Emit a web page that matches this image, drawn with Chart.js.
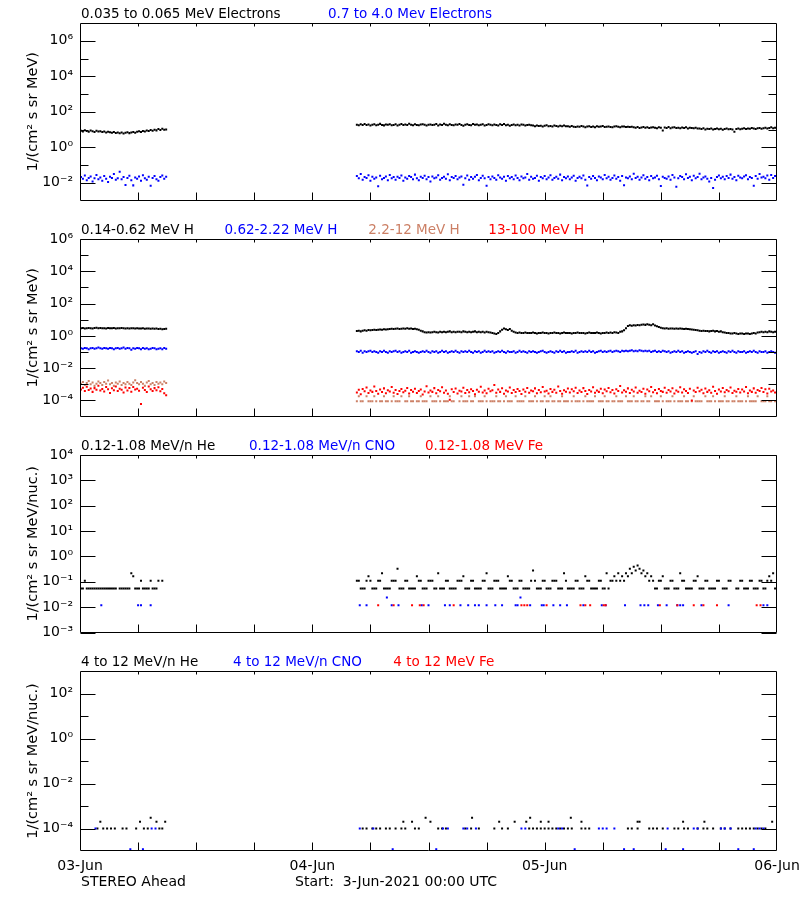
<!DOCTYPE html>
<html><head><meta charset="utf-8">
<script src="https://cdn.jsdelivr.net/npm/chart.js@4.4.1/dist/chart.umd.min.js"></script>
<style>
html,body{margin:0;padding:0;background:#fff;}
body{width:800px;height:900px;overflow:hidden;position:relative;font-family:"DejaVu Sans",sans-serif;}
canvas{position:absolute;left:0;}
.lbl{position:absolute;white-space:pre;font-size:13.5px;line-height:1;}
.foot{position:absolute;white-space:pre;font-size:14px;line-height:1;color:#000;}
</style></head><body>
<canvas id="p1" width="840" height="216" style="top:0px"></canvas>
<canvas id="p2" width="840" height="216" style="top:216px"></canvas>
<canvas id="p3" width="840" height="216" style="top:432px"></canvas>
<canvas id="p4" width="840" height="252" style="top:648px"></canvas>
<div id="texts"></div>
<script>
// ---------- time grid (hours from 03-Jun 00:00 UTC) ----------
const STEP = 0.2;
const SEG_A = 0.1;
const SEG_B = 28.6;
const DAY_HOURS = [0, 24, 48, 72];
const DAY_LABELS = ['03-Jun', '04-Jun', '05-Jun', '06-Jun'];
const HOUR_TICKS = [6, 12, 18, 24, 30, 36, 42, 48, 54, 60, 66];

// ---------- panel 1: electrons ----------
const elecLoA = [8.6,7.9,9.1,8.2,7.6,8.8,8.0,7.4,8.5,7.7,8.1,7.2,7.8,6.9,7.5,7.0,6.6,7.3,6.4,6.9,6.2,6.8,6.0,6.6,7.1,6.3,6.9,7.4,6.7,7.6,8.0,7.3,8.4,7.8,8.9,8.2,9.4,8.6,9.9,9.0,10.6,9.3,11.2,9.7,10.1];
const elecLoB = [
18.9,17.6,19.8,18.2,20.4,17.9,19.1,16.8,18.5,19.7,17.4,18.8,20.9,18.1,17.2,19.4,18.6,20.1,17.7,18.3,
19.6,16.9,18.4,20.6,17.8,19.2,18.0,21.3,18.7,17.3,19.9,18.2,17.5,19.3,20.2,18.6,16.7,18.9,19.5,17.9,
18.4,20.7,17.1,19.0,18.3,21.0,18.8,17.6,19.7,18.1,17.4,19.2,18.6,20.3,17.8,16.6,18.9,19.8,18.2,17.5,
20.5,18.7,19.1,17.3,18.4,19.6,16.9,18.0,20.0,18.5,17.7,19.4,18.1,17.0,19.8,18.3,20.6,17.6,18.8,16.4,
18.2,19.3,17.5,18.7,17.1,19.0,18.4,16.8,17.9,18.6,17.3,
16.8,15.4,17.1,15.9,16.5,14.8,16.2,17.4,15.6,16.0,15.1,16.7,15.8,14.9,16.3,15.5,17.0,15.2,
15.3,14.2,15.8,14.6,13.9,15.1,14.4,16.0,14.9,13.7,14.8,15.5,14.1,14.7,13.5,15.2,14.3,14.9,15.7,13.8,
14.5,15.0,14.0,13.4,14.8,15.4,14.2,13.6,14.7,15.1,13.9,14.4,14.0,14.6,
13.6,12.7,13.9,12.4,13.2,14.1,12.8,13.5,12.2,13.0,13.7,12.5,11.9,13.3,12.6,8.9,13.1,12.3,13.8,12.0,
12.9,13.4,12.1,12.7,11.8,13.0,12.4,13.6,11.6,12.8,12.2,11.9,12.5,11.4,
11.4,10.6,11.9,10.2,11.1,10.8,11.6,10.1,10.9,11.3,10.4,11.0,9.8,10.7,11.5,10.3,10.9,10.0,
7.6,10.8,11.4,10.5,11.2,11.8,10.7,11.5,11.0,12.1,11.3,10.9,11.7,12.3,11.1,11.9,12.6,11.4,12.2,13.4,
11.8,12.5,12.0];
const elecHiA = [0.021,0.017,0.026,0.014,0.019,0.023,0.012,0.018,0.028,0.016,0.020,0.013,0.024,0.017,0.011,0.022,0.019,0.031,0.015,0.018,
0.042,0.016,0.021,0.0075,0.019,0.025,0.014,0.0072,0.020,0.017,0.023,0.013,0.027,0.018,0.015,0.022,0.0068,0.019,0.024,0.016,
0.013,0.021,0.026,0.017,0.022];
const elecHiB = [
0.024,0.018,0.031,0.015,0.021,0.019,0.027,0.013,0.022,0.017,0.020,0.0065,0.025,0.016,0.019,0.023,0.014,0.028,0.018,0.021,
0.015,0.022,0.019,0.026,0.013,0.020,0.017,0.024,0.021,0.016,0.029,0.018,0.014,0.022,0.019,0.025,0.016,0.021,0.012,0.023,
0.018,0.020,0.027,0.015,0.019,0.022,0.017,0.030,0.014,0.021,0.019,0.024,0.016,0.020,0.023,0.0078,0.018,0.026,0.015,0.021,
0.017,0.022,0.028,0.014,0.019,0.025,0.018,0.0069,0.021,0.016,0.023,0.019,0.015,0.027,0.020,0.017,0.022,0.013,0.024,0.018,
0.021,0.016,0.026,0.019,0.014,0.023,0.018,0.020,0.031,0.015,0.022,0.017,0.019,0.025,0.013,0.021,0.018,0.024,0.016,0.020,
0.027,0.015,0.019,0.022,0.017,0.029,0.014,0.021,0.018,0.023,0.016,0.020,0.025,0.013,0.019,0.022,0.018,0.026,0.015,0.0070,
0.021,0.017,0.024,0.019,0.014,0.023,0.020,0.016,0.028,0.018,0.022,0.015,0.019,0.026,0.017,0.021,0.013,0.024,0.0074,0.020,
0.018,0.023,0.016,0.032,0.019,0.022,0.015,0.020,0.027,0.017,0.021,0.014,0.024,0.018,0.020,0.025,0.016,0.0066,0.022,0.019,
0.017,0.023,0.015,0.028,0.020,0.0061,0.018,0.024,0.021,0.016,0.030,0.019,0.022,0.014,0.025,0.018,0.021,0.033,0.016,0.020,
0.023,0.017,0.012,0.019,0.0052,0.015,0.021,0.026,0.018,0.022,0.016,0.024,0.019,0.029,0.017,0.021,0.014,0.025,0.020,0.018,
0.023,0.027,0.016,0.021,0.019,0.0068,0.024,0.017,0.031,0.020,0.022,0.018,0.026,0.015,0.028,0.019,0.024,0.021];

// ---------- panel 2: protons ----------
const hLoA = [3.0,3.1,2.9,3.0,3.1,3.0,2.9,3.1,3.2,3.0,3.1,3.0,3.0,2.9,3.1,3.0,3.0,3.1,2.9,3.0,
3.0,3.1,3.0,2.9,3.0,2.9,3.0,3.0,2.9,3.0,2.9,2.9,3.0,2.8,2.9,2.9,2.8,2.9,2.8,2.9,2.7,2.8,2.6,2.7,2.8];
const hLoB = [
2.0,2.1,1.9,2.1,2.2,2.1,2.3,2.2,2.3,2.4,2.3,2.4,2.5,2.4,2.6,2.5,2.6,2.7,2.8,2.7,
2.8,2.9,2.7,2.8,2.9,2.8,3.0,2.8,2.9,2.7,2.8,2.6,2.4,2.1,1.9,1.7,1.6,1.7,1.6,1.7,
1.8,1.7,1.6,1.8,1.7,1.8,1.7,1.8,1.9,1.7,1.8,1.7,1.8,1.8,1.7,1.9,1.8,1.7,1.8,1.7,
1.8,1.9,1.7,1.8,1.7,1.8,1.6,1.8,1.7,1.6,1.5,1.4,1.3,1.5,1.9,2.4,2.9,2.6,2.3,2.7,
2.1,1.8,1.6,1.5,1.6,1.5,1.5,1.6,1.5,1.5,1.5,1.6,1.5,1.4,1.5,1.5,1.6,1.5,1.5,1.4,
1.5,1.5,1.6,1.5,1.5,1.4,1.5,1.6,1.5,1.5,1.5,1.4,1.5,1.5,1.6,1.5,1.5,1.5,1.4,1.5,
1.6,1.5,1.5,1.5,1.6,1.5,1.4,1.5,1.5,1.6,1.5,1.6,1.5,1.7,1.6,1.5,1.8,1.9,2.2,3.0,
4.1,4.5,4.3,4.6,4.4,4.7,4.5,4.9,5.1,4.8,5.3,4.9,4.6,5.2,4.4,3.9,3.5,3.2,3.0,2.9,
3.0,2.8,2.9,2.9,2.8,2.9,2.8,2.9,2.8,2.7,2.8,2.7,2.6,2.5,2.4,2.3,2.2,2.1,2.0,2.1,
2.0,2.0,1.9,2.0,2.1,1.9,2.0,1.8,1.9,1.7,1.6,1.5,1.5,1.4,1.4,1.5,1.4,1.3,1.4,1.4,
1.3,1.4,1.4,1.3,1.4,1.5,1.4,1.6,1.7,1.8,1.7,1.8,1.7,1.9,1.8,1.7,1.8,1.8];
const hMidA = [0.17,0.16,0.18,0.17,0.15,0.17,0.18,0.16,0.17,0.19,0.17,0.16,0.18,0.17,0.16,0.18,0.17,0.15,0.17,0.18,
0.16,0.17,0.19,0.16,0.18,0.17,0.14,0.17,0.16,0.18,0.17,0.15,0.18,0.16,0.17,0.15,0.16,0.18,0.17,0.15,0.16,0.17,0.15,0.18,0.16];
const hMidB = [
0.11,0.10,0.12,0.09,0.11,0.10,0.11,0.12,0.10,0.11,0.10,0.09,0.11,0.10,0.12,0.10,0.09,0.11,0.10,0.11,
0.12,0.10,0.11,0.09,0.10,0.11,0.10,0.12,0.09,0.10,0.11,0.10,0.09,0.10,0.11,0.10,0.12,0.10,0.09,0.11,
0.10,0.11,0.09,0.10,0.12,0.10,0.11,0.09,0.10,0.11,0.10,0.12,0.10,0.09,0.11,0.10,0.11,0.10,0.12,0.10,
0.09,0.11,0.10,0.11,0.09,0.10,0.12,0.10,0.11,0.10,0.11,0.09,0.10,0.11,0.10,0.12,0.10,0.09,0.11,0.10,
0.10,0.11,0.09,0.10,0.12,0.10,0.11,0.10,0.09,0.11,0.10,0.11,0.10,0.09,0.10,0.11,0.12,0.10,0.09,0.10,
0.11,0.10,0.09,0.11,0.10,0.12,0.10,0.11,0.09,0.10,0.10,0.11,0.10,0.12,0.09,0.10,0.11,0.10,0.11,0.10,
0.12,0.10,0.11,0.09,0.10,0.11,0.12,0.10,0.11,0.10,0.11,0.12,0.10,0.11,0.12,0.11,0.10,0.12,0.11,0.12,
0.11,0.12,0.13,0.11,0.12,0.11,0.13,0.12,0.11,0.12,0.11,0.12,0.10,0.11,0.12,0.10,0.11,0.10,0.12,0.11,
0.10,0.11,0.09,0.10,0.11,0.10,0.12,0.10,0.11,0.09,0.10,0.11,0.10,0.09,0.10,0.11,0.075,0.10,0.09,0.11,
0.10,0.12,0.10,0.09,0.11,0.10,0.11,0.09,0.10,0.11,0.10,0.09,0.11,0.10,0.12,0.10,0.09,0.11,0.10,0.10,
0.11,0.09,0.10,0.11,0.10,0.12,0.10,0.09,0.11,0.10,0.10,0.11,0.09,0.10,0.11,0.10,0.09,0.10];
const hHiA = [0.0011,0.0014,0.0009,0.0012,0.0016,0.0010,0.0013,0.0008,0.0011,0.0015,0.0012,0.0009,0.0014,0.0011,0.0017,0.0010,0.0012,0.0008,0.0013,0.0011,
0.0015,0.0009,0.0012,0.0010,0.0014,0.0011,0.0009,0.0013,0.0018,0.0012,0.0010,0.0014,0.0011,0.0008,0.0013,0.0016,0.0010,0.0012,0.0009,0.0014,
0.0011,0.0013,0.0010,0.0015,0.0012];
const hHiB = [
8.8e-5,1.8e-4,8.8e-5,8.8e-5,null,1.8e-4,8.8e-5,8.8e-5,8.8e-5,1.8e-4,8.8e-5,null,8.8e-5,8.8e-5,1.8e-4,8.8e-5,8.8e-5,null,8.8e-5,1.8e-4,
8.8e-5,8.8e-5,8.8e-5,1.8e-4,null,8.8e-5,8.8e-5,1.8e-4,8.8e-5,8.8e-5,null,8.8e-5,8.8e-5,1.8e-4,8.8e-5,8.8e-5,8.8e-5,null,1.8e-4,8.8e-5,
8.8e-5,8.8e-5,1.8e-4,8.8e-5,null,8.8e-5,8.8e-5,8.8e-5,1.8e-4,8.8e-5,8.8e-5,null,null,8.8e-5,1.8e-4,8.8e-5,8.8e-5,8.8e-5,1.8e-4,8.8e-5,
8.8e-5,1.8e-4,null,8.8e-5,8.8e-5,8.8e-5,1.8e-4,8.8e-5,null,8.8e-5,8.8e-5,8.8e-5,1.8e-4,8.8e-5,8.8e-5,null,8.8e-5,1.8e-4,8.8e-5,8.8e-5,
8.8e-5,null,1.8e-4,8.8e-5,8.8e-5,8.8e-5,8.8e-5,1.8e-4,null,8.8e-5,8.8e-5,8.8e-5,1.8e-4,8.8e-5,null,8.8e-5,8.8e-5,1.8e-4,8.8e-5,8.8e-5,
1.8e-4,8.8e-5,8.8e-5,null,8.8e-5,8.8e-5,1.8e-4,8.8e-5,8.8e-5,8.8e-5,null,8.8e-5,1.8e-4,8.8e-5,8.8e-5,8.8e-5,null,8.8e-5,1.8e-4,8.8e-5,
8.8e-5,8.8e-5,8.8e-5,1.8e-4,null,8.8e-5,8.8e-5,8.8e-5,1.8e-4,8.8e-5,8.8e-5,null,8.8e-5,8.8e-5,1.8e-4,8.8e-5,8.8e-5,8.8e-5,null,1.8e-4,
8.8e-5,8.8e-5,8.8e-5,1.8e-4,8.8e-5,8.8e-5,null,8.8e-5,8.8e-5,1.8e-4,8.8e-5,8.8e-5,1.8e-4,null,8.8e-5,8.8e-5,8.8e-5,1.8e-4,8.8e-5,null,
8.8e-5,8.8e-5,8.8e-5,1.8e-4,8.8e-5,null,8.8e-5,8.8e-5,8.8e-5,1.8e-4,8.8e-5,8.8e-5,null,8.8e-5,1.8e-4,8.8e-5,8.8e-5,8.8e-5,8.8e-5,null,
1.8e-4,8.8e-5,8.8e-5,8.8e-5,1.8e-4,8.8e-5,null,8.8e-5,8.8e-5,8.8e-5,1.8e-4,8.8e-5,8.8e-5,null,8.8e-5,8.8e-5,1.8e-4,8.8e-5,8.8e-5,8.8e-5,
null,8.8e-5,1.8e-4,8.8e-5,8.8e-5,8.8e-5,8.8e-5,1.8e-4,null,8.8e-5,8.8e-5,8.8e-5,1.8e-4,8.8e-5,8.8e-5,null,8.8e-5,1.8e-4];
const hTopA = [0.00048,0.00062,0.00039,0.00071,0.00044,0.00055,0.00034,0.00058,0.00046,0.00081,0.00041,0.00052,0.00036,0.00067,0.00049,0.00029,0.00057,0.00043,0.00074,0.00038,
0.00053,0.00046,0.00031,0.00064,0.00042,0.00059,0.00035,0.00069,0.00047,0.00054,0.00040,0.00006,0.00061,0.00045,0.00033,0.00072,0.00050,0.00038,0.00058,0.00043,
0.00065,0.00037,0.00052,0.00028,0.00021];
const hTopB = [
3.1e-4,4.6e-4,2.4e-4,5.2e-4,3.7e-4,6.3e-4,2.9e-4,4.1e-4,3.4e-4,7.2e-4,3.9e-4,2.6e-4,4.8e-4,3.3e-4,5.6e-4,2.8e-4,4.3e-4,3.6e-4,6.8e-4,3.0e-4,
4.5e-4,2.5e-4,3.8e-4,5.1e-4,3.2e-4,4.0e-4,6.0e-4,2.7e-4,4.4e-4,3.5e-4,5.4e-4,2.9e-4,3.9e-4,4.7e-4,2.3e-4,3.6e-4,7.6e-4,3.1e-4,4.2e-4,3.4e-4,
5.8e-4,2.8e-4,4.5e-4,3.7e-4,6.5e-4,3.0e-4,4.1e-4,2.6e-4,1.1e-4,4.9e-4,3.3e-4,5.5e-4,2.7e-4,4.0e-4,3.6e-4,6.1e-4,2.9e-4,4.4e-4,3.2e-4,5.0e-4,
3.8e-4,2.4e-4,4.6e-4,3.5e-4,7.0e-4,3.1e-4,4.2e-4,2.8e-4,5.3e-4,3.7e-4,4.3e-4,9.2e-4,3.0e-4,4.8e-4,3.4e-4,5.7e-4,2.6e-4,4.1e-4,3.6e-4,6.4e-4,
2.9e-4,4.5e-4,3.3e-4,5.2e-4,3.9e-4,2.5e-4,4.7e-4,3.5e-4,6.0e-4,3.0e-4,4.2e-4,3.7e-4,5.6e-4,2.8e-4,4.4e-4,3.2e-4,6.7e-4,3.6e-4,4.0e-4,2.7e-4,
5.1e-4,3.4e-4,4.6e-4,3.0e-4,7.4e-4,3.8e-4,2.6e-4,4.3e-4,3.5e-4,5.5e-4,3.1e-4,4.9e-4,3.7e-4,6.2e-4,2.9e-4,4.1e-4,3.3e-4,5.8e-4,3.9e-4,2.5e-4,
4.5e-4,3.6e-4,6.6e-4,3.0e-4,4.2e-4,3.4e-4,5.3e-4,2.8e-4,4.7e-4,3.7e-4,6.0e-4,3.2e-4,4.4e-4,2.7e-4,5.0e-4,3.8e-4,7.8e-4,3.1e-4,4.3e-4,3.5e-4,
5.6e-4,2.9e-4,4.6e-4,3.6e-4,6.3e-4,3.0e-4,4.0e-4,3.3e-4,5.4e-4,2.6e-4,4.8e-4,3.7e-4,6.9e-4,3.2e-4,4.4e-4,2.8e-4,5.2e-4,3.9e-4,3.4e-4,6.1e-4,
3.0e-4,4.5e-4,3.6e-4,5.7e-4,2.7e-4,4.2e-4,3.5e-4,6.5e-4,3.1e-4,4.9e-4,3.8e-4,2.9e-4,5.3e-4,1.0e-4,4.1e-4,3.3e-4,6.2e-4,3.7e-4,4.6e-4,2.8e-4,
5.5e-4,3.4e-4,4.3e-4,3.0e-4,7.1e-4,3.9e-4,2.6e-4,4.7e-4,3.6e-4,5.9e-4,3.2e-4,4.4e-4,3.7e-4,6.4e-4,2.9e-4,4.0e-4,3.5e-4,5.1e-4,3.1e-4,4.8e-4,
3.6e-4,6.7e-4,2.8e-4,4.2e-4,3.4e-4,5.6e-4,3.0e-4,4.5e-4,3.8e-4,6.0e-4,3.3e-4,4.9e-4,2.7e-4,5.4e-4,3.6e-4,4.1e-4,3.1e-4,5.0e-4];

// ---------- panel 3: 0.12-1.08 MeV/n ions ----------
const heLoA = [0.055,0.055,0.11,0.055,0.055,0.055,0.055,0.055,0.055,0.055,0.055,0.055,0.055,0.055,0.055,0.055,0.055,0.055,0.055,null,
0.055,0.055,0.055,0.055,0.055,0.055,0.22,0.165,0.055,0.055,0.055,0.11,0.055,0.055,0.055,0.055,0.11,0.055,0.055,0.055,0.11,null,0.11,null,null];
const heLoB = [
0.11,0.11,0.055,0.055,0.055,0.11,0.165,0.11,0.055,0.055,0.055,0.11,0.11,0.22,0.055,0.055,0.055,0.055,0.11,0.11,
0.11,0.33,0.055,0.055,0.055,0.11,0.11,0.055,0.055,0.055,0.055,0.165,0.11,0.11,0.055,0.055,0.055,0.11,0.11,0.11,
0.055,0.055,0.22,0.055,0.055,0.055,0.11,0.11,0.055,0.055,0.055,0.055,0.11,0.11,0.11,0.165,0.055,0.055,0.055,0.11,
0.11,0.055,0.055,0.055,0.055,0.11,0.11,0.22,0.055,0.055,0.055,0.11,0.11,0.11,0.055,0.055,0.055,0.055,0.165,0.11,
0.11,0.055,0.055,0.055,0.11,0.11,0.055,0.055,0.055,0.055,0.11,0.28,0.11,0.055,0.055,0.055,0.11,0.11,0.055,0.055,
0.055,0.11,0.11,0.11,0.055,0.055,0.055,0.22,0.11,0.055,0.055,0.055,0.055,0.11,0.11,0.055,0.055,0.055,0.165,0.11,
0.11,0.055,0.055,0.055,0.055,0.11,0.11,0.055,0.055,0.22,0.055,0.11,0.11,0.165,0.11,0.22,0.11,0.165,0.11,0.22,
0.165,0.33,0.22,0.39,0.28,0.44,0.33,0.22,0.28,0.165,0.22,0.11,0.165,0.11,0.055,0.055,0.11,0.11,0.165,0.055,
0.055,0.055,0.11,0.11,0.055,0.055,0.055,0.22,0.11,0.11,0.055,0.055,0.055,0.055,0.11,0.11,0.165,0.055,0.055,0.055,
0.11,0.11,0.055,0.055,0.055,0.055,0.11,0.11,null,0.055,0.055,0.055,0.11,0.11,null,null,0.055,0.055,0.11,0.11,
0.055,0.055,0.055,0.11,0.11,0.055,0.055,0.055,0.11,0.11,0.055,0.055,0.11,0.165,0.11,0.22,0.055,0.11];
const cnoLoT = [2.2,6.0,6.3,7.3,28.9,29.6,31.7,32.2,32.9,35.3,36.0,37.7,38.2,39.3,40.1,40.8,41.2,42.0,42.9,43.6,45.0,45.2,45.5,46.5,47.7,47.9,48.9,49.6,50.3,52.0,53.9,54.3,56.3,57.9,58.3,58.7,59.7,60.6,61.7,62.0,62.3,64.2,67.0,70.6,71.0];
const cnoLoV = [0.012,0.012,0.012,0.012,0.012,0.012,0.024,0.012,0.012,0.012,0.012,0.012,0.012,0.012,0.012,0.012,0.012,0.012,0.012,0.012,0.012,0.012,0.024,0.012,0.012,0.012,0.012,0.012,0.012,0.012,0.012,0.012,0.012,0.012,0.012,0.012,0.012,0.012,0.012,0.012,0.012,0.012,0.012,0.012,0.012];
const feLoT = [30.8,32.4,34.3,35.1,35.5,38.6,45.6,45.9,46.2,48.2,51.7,52.2,52.7,54.1,54.3,59.9,61.7,63.4,64.4,65.8,69.9,70.3];
const feLoV = [0.012,0.012,0.012,0.012,0.012,0.012,0.012,0.012,0.012,0.012,0.012,0.012,0.012,0.012,0.012,0.012,0.012,0.012,0.012,0.012,0.012,0.012];

// ---------- panel 4: 4-12 MeV/n ions ----------
const heHiT = [1.8,2.1,2.4,2.8,3.2,3.6,4.4,4.8,5.8,6.2,6.6,7.0,7.3,7.9,8.2,8.5,8.8,
29.2,29.6,30.2,30.6,31.0,31.6,32.0,32.6,33.2,33.4,33.6,34.3,34.6,35.0,35.7,36.2,37.0,37.4,37.8,39.8,
40.4,40.5,41.2,42.8,43.3,43.6,44.2,44.9,46.1,46.4,46.5,46.8,47.2,47.6,47.6,48.0,48.4,48.4,48.8,49.2,
49.6,50.0,50.4,50.7,50.8,51.8,51.8,52.2,52.6,56.6,57.0,57.6,57.6,57.8,58.8,59.2,59.6,60.2,61.4,61.8,
62.3,62.4,62.8,63.8,64.4,64.5,64.8,65.4,66.2,66.6,67.2,68.0,68.4,68.8,69.2,69.6,70.0,70.4,70.8,71.5];
const heHiV = [1e-4,2e-4,1e-4,1e-4,1e-4,1e-4,1e-4,1e-4,1e-4,2e-4,1e-4,1e-4,3e-4,2e-4,1e-4,1e-4,2e-4,
1e-4,1e-4,1e-4,1e-4,1e-4,1e-4,1e-4,1e-4,1e-4,2e-4,1e-4,2e-4,1e-4,1e-4,3e-4,2e-4,1e-4,1e-4,1e-4,1e-4,
1e-4,3e-4,1e-4,1e-4,2e-4,1e-4,1e-4,2e-4,2e-4,1e-4,3e-4,1e-4,1e-4,1e-4,2e-4,1e-4,1e-4,2e-4,1e-4,1e-4,
1e-4,1e-4,1e-4,3e-4,1e-4,1e-4,2e-4,1e-4,1e-4,1e-4,1e-4,1e-4,2e-4,2e-4,1e-4,1e-4,1e-4,1e-4,1e-4,1e-4,
2e-4,1e-4,1e-4,1e-4,1e-4,2e-4,1e-4,1e-4,1e-4,1e-4,1e-4,1e-4,1e-4,1e-4,1e-4,1e-4,1e-4,1e-4,1e-4,2e-4];
const cnoHiT = [1.6,5.2,6.5,7.4,7.8,28.9,30.3,32.3,36.8,37.5,38.0,39.6,40.0,40.9,45.6,46.0,49.4,49.8,51.1,53.6,54.0,54.4,55.2,56.2,57.2,60.5,60.7,62.3,63.4,63.8,66.2,66.6,67.2,68.0,69.6,69.8,70.2,70.6];
const cnoHiV = [1e-4,1.2e-5,1.2e-5,1e-4,1e-4,1e-4,1e-4,1.2e-5,1.2e-5,1e-4,1e-4,1e-4,1e-4,1e-4,1e-4,1e-4,1e-4,1e-4,1.2e-5,1e-4,1e-4,1e-4,1e-4,1.2e-5,1.2e-5,1.2e-5,1e-4,1.2e-5,1e-4,1e-4,1e-4,1e-4,1e-4,1.2e-5,1.2e-5,1e-4,1e-4,1e-4];
const feHiT = [];
const feHiV = [];

// ---------- axis tick values ----------
const P1_MAJOR = [1e6,1e4,1e2,1,1e-2], P1_MINOR = [1e5,1e3,10,0.1];
const P2_MAJOR = [1e6,1e4,1e2,1,1e-2,1e-4], P2_MINOR = [1e5,1e3,10,0.1,1e-3];
const P3_MAJOR = [1e4,1e3,1e2,10,1,0.1,0.01,1e-3], P3_MINOR = [];
const P4_MAJOR = [1e2,1,1e-2,1e-4], P4_MINOR = [10,0.1,1e-3];

// ---------- legend texts ----------
const TITLES = [
  [['0.035 to 0.065 MeV Electrons','#000000'],['0.7 to 4.0 Mev Electrons','#0000ff']],
  [['0.14-0.62 MeV H','#000000'],['0.62-2.22 MeV H','#0000ff'],['2.2-12 MeV H','#cc8066'],['13-100 MeV H','#ff0000']],
  [['0.12-1.08 MeV/n He','#000000'],['0.12-1.08 MeV/n CNO','#0000ff'],['0.12-1.08 MeV Fe','#ff0000']],
  [['4 to 12 MeV/n He','#000000'],['4 to 12 MeV/n CNO','#0000ff'],['4 to 12 MeV Fe','#ff0000']]
];
const FOOTER = ['STEREO Ahead', 'Start:  3-Jun-2021 00:00 UTC'];

// ---------- layout (positions only) ----------
const TITLE_X = [[81,328],[81,224.5,368.3,488.3],[81,249,425],[81,233,393.3]];
const TITLE_TOP = [7,223,439,655];

// ---------- helpers ----------
const grid = (start, vals) => vals.map((v, i) => ({x: start + i * STEP, y: v}));
const pairs = (ts, vs) => ts.map((t, i) => ({x: t, y: vs[i]}));
const SUP = {'0':'⁰','1':'¹','2':'²','3':'³','4':'⁴','5':'⁵','6':'⁶','7':'⁷','8':'⁸','9':'⁹','-':'⁻'};
const sup = v => '10' + String(Math.round(Math.log10(v))).split('').map(c => SUP[c]).join('');
const FONT = 'DejaVu Sans';

function framePlugin(major, minor) {
  return {
    id: 'frameTicks',
    afterDatasetsDraw(chart) {
      const {ctx, chartArea: a, scales: {x, y}} = chart;
      const L = Math.round(a.left) + 0.5, R = Math.round(a.right) - 0.5;
      const T = Math.round(a.top) + 0.5, B = Math.round(a.bottom) - 0.5;
      ctx.save();
      ctx.strokeStyle = '#000'; ctx.lineWidth = 1;
      ctx.beginPath();
      ctx.rect(L, T, R - L, B - T);
      for (const h of HOUR_TICKS) {
        const px = Math.round(x.getPixelForValue(h)) + 0.5;
        ctx.moveTo(px, B); ctx.lineTo(px, B - 8);
        ctx.moveTo(px, T); ctx.lineTo(px, T + 3);
      }
      const yt = (list, len) => { for (const v of list) {
        const py = Math.round(y.getPixelForValue(v)) + 0.5;
        ctx.moveTo(L, py); ctx.lineTo(L + len, py);
        ctx.moveTo(R, py); ctx.lineTo(R - len, py);
      }};
      yt(major, 15); yt(minor, 8);
      ctx.stroke();
      ctx.restore();
    }
  };
}

function makePanel(id, cfg) {
  new Chart(document.getElementById(id), {
    type: 'scatter',
    data: { datasets: cfg.sets.map((s, i) => ({
      data: s.data, backgroundColor: s.color, borderColor: s.color, borderWidth: 0,
      pointStyle: 'rect', pointRadius: 1.42, pointHoverRadius: 1.42, order: -i
    })) },
    options: {
      responsive: false, animation: false, events: [], devicePixelRatio: 1,
      layout: { padding: { top: 23, bottom: cfg.bottom ? 0 : 13, left: 0, right: 63 } },
      plugins: { legend: { display: false }, tooltip: { enabled: false } },
      scales: {
        x: {
          type: 'linear', min: 0, max: 72, display: !!cfg.bottom,
          grid: { display: false, drawTicks: false }, border: { display: false },
          afterBuildTicks: s => { s.ticks = DAY_HOURS.map(v => ({value: v})); },
          afterFit: s => { s.height = cfg.bottom ? 49 : 0; },
          ticks: { autoSkip: false, maxRotation: 0, padding: 7, color: '#000',
                   font: { family: FONT, size: 14 },
                   callback: v => DAY_LABELS[DAY_HOURS.indexOf(v)] }
        },
        y: {
          type: 'logarithmic', min: cfg.min, max: cfg.max,
          grid: { display: false, drawTicks: false }, border: { display: false },
          afterBuildTicks: s => { s.ticks = cfg.major.map(v => ({value: v})); },
          afterFit: s => { s.width = 80; },
          ticks: { autoSkip: false, padding: 7, color: '#000', font: { family: FONT, size: 14 },
                   callback: v => sup(v) },
          title: { display: true, text: cfg.ytitle, color: '#000',
                   font: { family: FONT, size: 14.5 }, padding: { top: 25, bottom: 0 } }
        }
      }
    },
    plugins: [framePlugin(cfg.major, cfg.minor)]
  });
}

const Y1 = '1/(cm² s sr MeV)', Y2 = '1/(cm² s sr MeV/nuc.)';
makePanel('p1', { min: 1e-3, max: 1e7, major: P1_MAJOR, minor: P1_MINOR, ytitle: Y1, sets: [
  { color: '#000000', data: grid(SEG_A, elecLoA).concat(grid(SEG_B, elecLoB)) },
  { color: '#0000ff', data: grid(SEG_A, elecHiA).concat(grid(SEG_B, elecHiB)) }
]});
makePanel('p2', { min: 1e-5, max: 1e6, major: P2_MAJOR, minor: P2_MINOR, ytitle: Y1, sets: [
  { color: '#000000', data: grid(SEG_A, hLoA).concat(grid(SEG_B, hLoB)) },
  { color: '#0000ff', data: grid(SEG_A, hMidA).concat(grid(SEG_B, hMidB)) },
  { color: '#cc8066', data: grid(SEG_A, hHiA).concat(grid(SEG_B, hHiB)) },
  { color: '#ff0000', data: grid(SEG_A, hTopA).concat(grid(SEG_B, hTopB)) }
]});
makePanel('p3', { min: 1e-3, max: 1e4, major: P3_MAJOR, minor: P3_MINOR, ytitle: Y2, sets: [
  { color: '#000000', data: grid(SEG_A, heLoA).concat(grid(SEG_B, heLoB)) },
  { color: '#0000ff', data: pairs(cnoLoT, cnoLoV) },
  { color: '#ff0000', data: pairs(feLoT, feLoV) }
]});
makePanel('p4', { min: 1e-5, max: 1e3, major: P4_MAJOR, minor: P4_MINOR, ytitle: Y2, bottom: true, sets: [
  { color: '#000000', data: pairs(heHiT, heHiV) },
  { color: '#0000ff', data: pairs(cnoHiT, cnoHiV) },
  { color: '#ff0000', data: pairs(feHiT, feHiV) }
]});

// ---------- text labels ----------
const box = document.getElementById('texts');
TITLES.forEach((row, p) => row.forEach(([txt, col], k) => {
  const d = document.createElement('div');
  d.className = 'lbl'; d.textContent = txt; d.style.color = col;
  d.style.left = TITLE_X[p][k] + 'px'; d.style.top = TITLE_TOP[p] + 'px';
  box.appendChild(d);
}));
const FOOT_X = [81, 295];
FOOTER.forEach((txt, k) => {
  const d = document.createElement('div');
  d.className = 'foot'; d.textContent = txt;
  d.style.left = FOOT_X[k] + 'px'; d.style.top = '874px';
  box.appendChild(d);
});
</script>
</body></html>
